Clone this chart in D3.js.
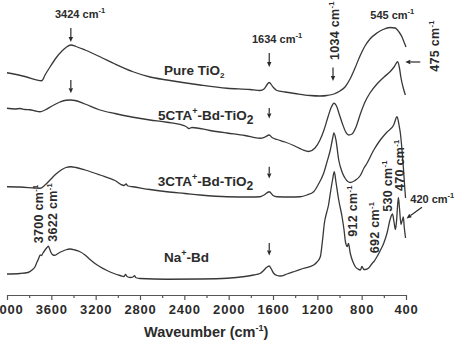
<!DOCTYPE html>
<html>
<head>
<meta charset="utf-8">
<script src="https://cdn.jsdelivr.net/npm/d3@7"></script>
<style>
  body { margin: 0; background: #fff; }
  svg { display: block; font-family: "Liberation Sans", Arial, sans-serif; font-weight: bold; }
</style>
</head>
<body>
<div id="chart"></div>
<script>
// FTIR spectra, wavenumber (cm-1) vs. transmittance (a.u., offset)
const pureWave = [4000,3838,3687,3657,3612,3558,3504,3468,3424,3377,3296,3161,3026,2863,2710,2557,2259,2015,1808,1717,1681,1634,1600,1564,1492,1402,1266,1176,1113,1050,996,950,905,860,815,770,725,662,607,544,499,463,436,418,400];
const pureVal  = [88.9,87.4,85.7,88.0,91.2,94.8,97.6,99.0,100.0,99.4,98.0,95.3,92.4,89.3,87.2,86.0,84.0,82.7,82.2,81.8,82.4,85.0,83.2,81.8,81.2,80.6,79.8,79.6,79.8,80.4,81.6,83.2,86.4,90.8,95.6,99.6,102.4,104.8,106.2,107.0,106.8,105.2,103.2,101.2,99.2];

const cta5Wave = [4000,3928,3883,3838,3793,3747,3702,3657,3594,3522,3468,3424,3386,3296,3161,3026,2863,2710,2556,2385,2358,2331,2169,2015,1853,1717,1672,1634,1609,1564,1492,1413,1338,1278,1221,1176,1140,1104,1077,1050,1027,1000,973,946,917,887,851,812,770,725,662,598,542,508,475,459,445,427,406];
const cta5Val  = [74.7,74.4,74.6,74.2,74.1,73.6,73.3,74.0,75.6,77.2,77.9,78.0,77.8,76.4,74.0,72.6,71.1,70.0,69.1,67.4,66.6,67.0,65.8,64.8,63.8,62.7,63.2,64.0,63.0,62.2,61.2,59.8,58.2,57.4,58.8,62.0,66.0,71.2,74.8,76.7,75.6,72.0,68.4,65.4,64.0,64.4,67.2,72.4,77.2,80.8,84.4,87.2,89.4,91.2,93.3,90.8,86.8,83.2,80.0];

const cta3Wave = [4000,3883,3747,3702,3657,3612,3558,3504,3468,3424,3377,3296,3161,3026,2945,2926,2908,2863,2710,2557,2394,2259,2015,1808,1717,1681,1634,1600,1564,1447,1356,1293,1233,1194,1143,1113,1083,1063,1050,1032,1007,977,948,903,860,812,779,752,691,632,571,511,481,463,451,436,422,413,404];
const cta3Val  = [43.3,43.2,42.8,42.7,44.0,46.0,48.4,50.2,51.0,51.3,51.0,50.0,48.0,45.8,43.8,44.4,43.6,43.3,42.2,41.3,40.6,40.0,39.3,39.2,39.3,40.0,41.3,39.8,39.3,39.2,39.3,40.0,41.3,44.0,48.7,53.2,58.0,62.4,64.8,62.0,54.0,49.2,46.6,45.0,45.8,47.8,50.8,52.7,58.0,62.0,65.2,68.0,71.3,68.0,64.8,58.0,50.0,44.0,38.8];

const naWave = [4000,3883,3811,3774,3747,3729,3716,3700,3689,3675,3657,3639,3626,3617,3603,3585,3567,3540,3506,3468,3432,3386,3341,3296,3251,3206,3161,3098,3041,2980,2944,2931,2917,2890,2863,2850,2836,2800,2559,2259,2015,1853,1774,1717,1681,1659,1634,1618,1594,1564,1534,1474,1413,1329,1233,1203,1173,1153,1135,1117,1099,1081,1063,1047,1032,1007,977,959,946,930,919,903,878,857,833,812,797,781,767,737,716,702,689,662,634,601,571,542,522,508,496,486,469,459,445,433,424,415,404];
const naVal  = [8.4,8.6,9.0,10.0,11.3,13.2,14.4,16.0,15.8,16.8,18.0,19.0,19.5,18.6,17.0,16.0,15.9,16.6,17.4,18.1,18.4,18.0,17.3,16.0,14.2,12.6,11.3,9.8,8.7,7.8,7.4,8.2,7.4,7.0,7.2,7.7,6.9,6.6,6.3,6.4,6.7,7.4,8.0,8.6,10.0,11.0,11.6,10.6,8.7,7.8,7.6,8.4,9.3,10.6,12.0,13.2,15.3,22.0,29.2,32.8,36.0,41.2,46.0,49.3,45.2,38.0,31.3,26.0,21.2,19.4,20.6,16.7,13.2,11.3,10.4,10.0,11.4,10.2,10.2,10.8,12.0,12.8,13.4,15.3,17.6,20.7,24.8,30.4,32.4,29.2,26.2,29.2,39.0,34.8,28.2,30.0,31.2,26.8,22.8];

const majorTicks = [4000,3600,3200,2800,2400,2000,1600,1200,800,400];
const minorTicks = [3800,3400,3000,2600,2200,1800,1400,1000,600];

const width = 454, height = 344;
const ink = "#2b2b2b";

const svg = d3.select("#chart").append("svg")
    .attr("width", width)
    .attr("height", height);

const x = d3.scaleLinear().domain([4000, 400]).range([7, 406]);
const y = d3.scaleLinear().domain([0, 118]).range([295, 0]);

// axis
const axis = svg.append("g")
    .attr("transform", "translate(0,295)")
    .call(d3.axisBottom(x).tickValues(majorTicks).tickSize(5).tickSizeOuter(0).tickPadding(5).tickFormat(d3.format("d")));
axis.select(".domain").attr("stroke", "#555").attr("stroke-width", 1.2);
axis.selectAll(".tick line").attr("stroke", "#555").attr("stroke-width", 1.2);
axis.selectAll(".tick text")
    .attr("fill", ink)
    .style("font-size", "13px")
    .style("font-weight", "bold")
    .style("letter-spacing", "0.8px");

const minor = svg.append("g")
    .attr("transform", "translate(0,295)")
    .call(d3.axisBottom(x).tickValues(minorTicks).tickSize(3).tickSizeOuter(0).tickFormat(""));
minor.select(".domain").remove();
minor.selectAll(".tick line").attr("stroke", "#555").attr("stroke-width", 1.2);

// axis title
const title = svg.append("text")
    .attr("x", 144).attr("y", 337)
    .attr("fill", ink)
    .style("font-size", "14.5px");
title.append("tspan").text("Waveumber (cm");
title.append("tspan").attr("dy", -6).style("font-size", "9px").text("-1");
title.append("tspan").attr("dy", 6).text(")");

// spectra
const line = d3.line()
    .x(d => x(d[0]))
    .y(d => y(d[1]))
    .curve(d3.curveMonotoneX);

const series = [
    d3.zip(pureWave, pureVal),
    d3.zip(cta5Wave, cta5Val),
    d3.zip(cta3Wave, cta3Val),
    d3.zip(naWave, naVal)
];

svg.append("g")
    .selectAll("path")
    .data(series)
    .enter().append("path")
    .attr("fill", "none")
    .attr("stroke", "#383838")
    .attr("stroke-width", 1.3)
    .attr("stroke-linejoin", "round")
    .attr("d", line);

// series names
function seriesLabel(px, py, parts) {
    const t = svg.append("text").attr("x", px).attr("y", py).attr("fill", ink).style("font-size", "13.5px");
    parts.forEach(p => {
        const s = t.append("tspan").text(p.t);
        if (p.sup) s.attr("dy", -6).style("font-size", "9px");
        if (p.sub) s.attr("dy", p.sub).style("font-size", p.size);
        if (p.back) s.attr("dy", p.back);
    });
}
seriesLabel(164, 74.5, [{t: "Pure TiO"}, {t: "2", sub: 3, size: "8px"}]);
seriesLabel(158, 120, [{t: "5CTA"}, {t: "+", sup: true}, {t: "-Bd-TiO", back: 6}, {t: "2", sub: 4, size: "12px"}]);
seriesLabel(157.7, 186, [{t: "3CTA"}, {t: "+", sup: true}, {t: "-Bd-TiO", back: 6}, {t: "2", sub: 4, size: "12px"}]);
seriesLabel(164, 261.7, [{t: "Na"}, {t: "+", sup: true}, {t: "-Bd", back: 6}]);

// peak annotations
function peakLabel(px, py, value, rotated) {
    const t = svg.append("text")
        .attr("fill", ink)
        .style("font-size", rotated ? "12.5px" : "11px")
        .style("letter-spacing", rotated ? "0.3px" : "0px")
        .attr("transform", rotated ? `translate(${px},${py}) rotate(-90)` : `translate(${px},${py})`);
    t.append("tspan").text(value + " cm");
    t.append("tspan").attr("dy", -5).style("font-size", "7.5px").text("-1");
}
peakLabel(55, 18, "3424", false);
peakLabel(252, 43, "1634", false);
peakLabel(370.3, 18.5, "545", false);
peakLabel(410.3, 203, "420", false);
peakLabel(338.5, 60, "1034", true);
peakLabel(438.5, 71.7, "475", true);
peakLabel(43.3, 243.3, "3700", true);
peakLabel(56.5, 241.7, "3622", true);
peakLabel(357, 236.7, "912", true);
peakLabel(378.5, 253.3, "692", true);
peakLabel(392, 211.7, "530", true);
peakLabel(403.5, 191, "470", true);

// arrows
function arrow(x1, y1, x2, y2) {
    const a = Math.atan2(y2 - y1, x2 - x1);
    const len = 5, half = 2.2;
    const bx = x2 - len * Math.cos(a), by = y2 - len * Math.sin(a);
    svg.append("line")
        .attr("x1", x1).attr("y1", y1).attr("x2", bx).attr("y2", by)
        .attr("stroke", ink).attr("stroke-width", 1.2);
    const p1 = [bx + half * Math.sin(a), by - half * Math.cos(a)];
    const p2 = [bx - half * Math.sin(a), by + half * Math.cos(a)];
    svg.append("path")
        .attr("d", `M${x2},${y2}L${p1[0]},${p1[1]}L${p2[0]},${p2[1]}Z`)
        .attr("fill", ink);
}
arrow(x(3424), 28, x(3424), 42);
arrow(x(3424), 80, x(3424), 93.3);
arrow(x(1634), 53, x(1634), 67);
arrow(x(1634), 108, x(1634), 118.5);
arrow(x(1634), 166.7, x(1634), 178.5);
arrow(x(1634), 243, x(1634), 255.5);
arrow(333, 67.5, 333, 81);
arrow(420.3, 62, 405.3, 62);
arrow(422, 207.3, 406.5, 218.5);
</script>
</body>
</html>
